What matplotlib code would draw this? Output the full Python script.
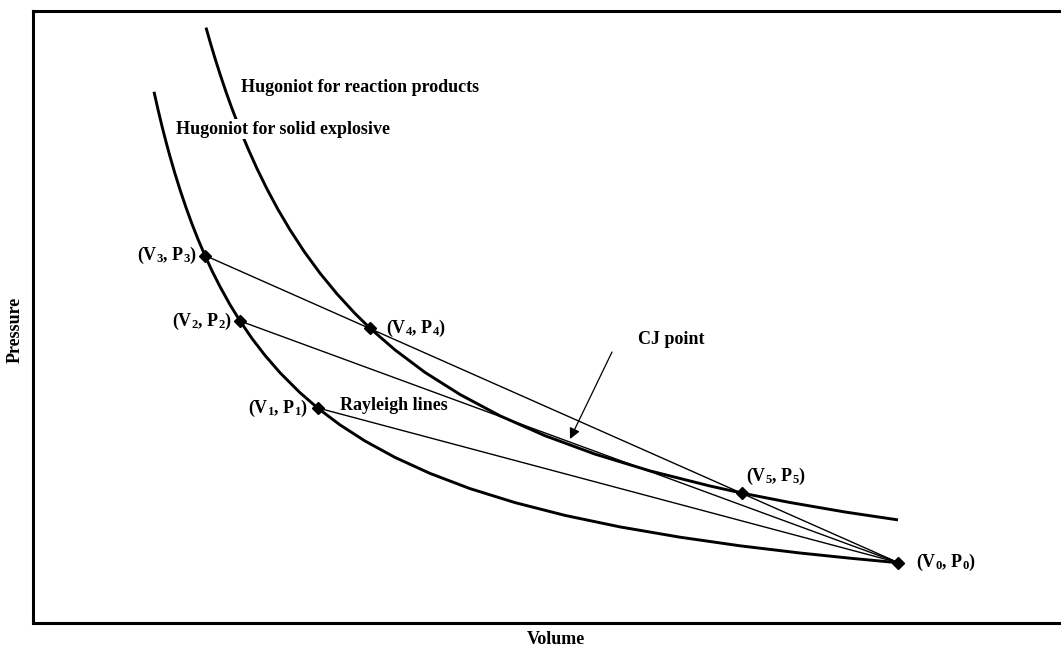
import matplotlib.pyplot as plt

plt.rcParams['font.family'] = ['Liberation Serif', 'DejaVu Serif']
plt.rcParams['font.weight'] = 'bold'
plt.rcParams['mathtext.fontset'] = 'custom'
plt.rcParams['mathtext.rm'] = 'Liberation Serif:bold'
plt.rcParams['mathtext.it'] = 'Liberation Serif:bold'
plt.rcParams['mathtext.bf'] = 'Liberation Serif:bold'

# Hugoniot of the unreacted solid explosive (volume, pressure)
solid_v = [121, 125, 129, 133, 137, 142, 147, 153, 159, 165, 172, 179,
           187, 197, 207, 219, 232, 247, 267, 285, 307, 332, 362, 397,
           437, 482, 532, 587, 647, 707, 767, 817, 865]
solid_p = [531.2, 513.5, 496.8, 481.2, 466.5, 449.3, 433.3, 415.5, 399.0,
           383.8, 367.4, 352.2, 336.4, 318.3, 302.1, 284.5, 267.6, 250.3,
           230.3, 214.7, 198.1, 182.0, 165.6, 149.6, 134.4, 120.4, 107.6,
           96.1, 85.8, 77.2, 70.0, 64.8, 60.3]

# Hugoniot of the reaction products
prod_v = [173, 177, 182, 187, 193, 199, 207, 215, 224, 234, 245, 257,
          271, 287, 304, 322, 337, 362, 392, 427, 467, 512, 562, 617,
          677, 709, 757, 812, 865]
prod_p = [595.4, 581.4, 564.7, 549.0, 531.1, 514.4, 493.6, 474.4, 454.4,
          434.0, 413.5, 393.2, 371.7, 349.8, 329.1, 309.5, 294.8, 273.1,
          250.6, 228.5, 207.2, 187.3, 168.9, 152.1, 137.0, 129.9, 120.5,
          111.0, 103.1]

# labelled states
state_names = ['0', '1', '2', '3', '4', '5']
state_v = [865, 285, 207, 172, 337, 709]
state_p = [60.5, 215, 302, 367.5, 295, 130]

fig = plt.figure(figsize=(10.61, 6.48), dpi=100)
ax = fig.add_axes([33 / 1061, 25 / 648, 1030 / 1061, 612 / 648])
ax.set_xlim(0, 1030)
ax.set_ylim(0, 612)
ax.set_xticks([])
ax.set_yticks([])
for side in ['left', 'bottom', 'top', 'right']:
    ax.spines[side].set_linewidth(2.2)

ax.plot(solid_v, solid_p, color='black', lw=2.1, solid_capstyle='butt',
        solid_joinstyle='round')
ax.plot(prod_v, prod_p, color='black', lw=2.1, solid_capstyle='butt',
        solid_joinstyle='round')

# Rayleigh lines from the initial state
v0, p0 = state_v[0], state_p[0]
for i in [1, 2, 3]:
    ax.plot([state_v[i], v0], [state_p[i], p0], color='black', lw=1.0)

ax.plot(state_v, state_p, linestyle='none', marker='D', ms=6.5,
        color='black', zorder=5)

fs = 13
lab = {n: '(V$_{%s}$, P$_{%s}$)' % (n, n) for n in state_names}
ax.text(v0 + 18, p0, lab['0'], fontsize=fs, ha='left', va='center')
ax.text(state_v[1] - 10, state_p[1], lab['1'], fontsize=fs, ha='right', va='center')
ax.text(state_v[2] - 8, state_p[2], lab['2'], fontsize=fs, ha='right', va='center')
ax.text(state_v[3] - 8, state_p[3], lab['3'], fontsize=fs, ha='right', va='center')
ax.text(state_v[4] + 16, state_p[4], lab['4'], fontsize=fs, ha='left', va='center')
ax.text(state_v[5] + 4, state_p[5] + 17, lab['5'], fontsize=fs, ha='left', va='center')

ax.text(208, 536, 'Hugoniot for reaction products', fontsize=fs, va='center')
ax.text(143, 494, 'Hugoniot for solid explosive', fontsize=fs, va='center',
        zorder=4, bbox=dict(facecolor='white', edgecolor='none', pad=1))
ax.text(307, 217, 'Rayleigh lines', fontsize=fs, va='center')
ax.text(605, 283, 'CJ point', fontsize=fs, va='center')

ax.annotate('', xy=(537, 184), xytext=(579, 271),
            arrowprops=dict(arrowstyle='-|>', color='black', lw=0.9,
                            mutation_scale=16, shrinkA=0, shrinkB=0))

fig.text(556 / 1061, 1 - 640 / 648, 'Volume', fontsize=fs, ha='center', va='center')
fig.text(15 / 1061, 1 - 330 / 648, 'Pressure', fontsize=fs, ha='center',
         va='center', rotation=90)

fig.savefig('out.png', dpi=100)
